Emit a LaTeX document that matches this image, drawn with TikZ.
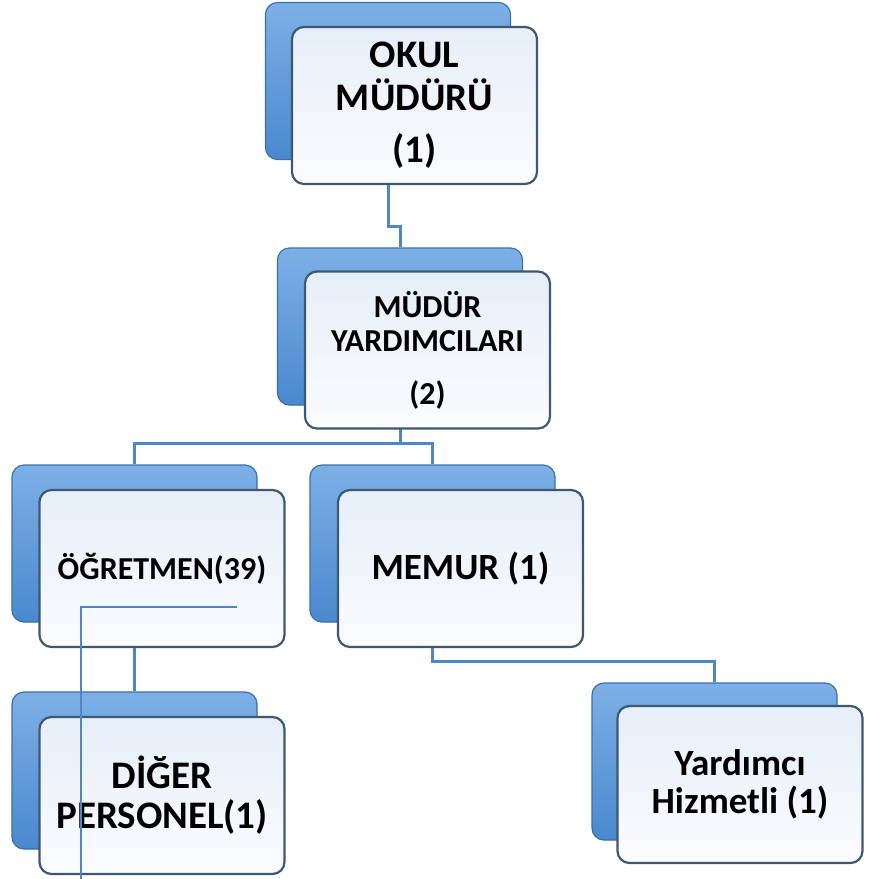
\documentclass[tikz,border=0pt]{standalone}
\usepackage{fontspec}
\setmainfont{Carlito}[BoldFont={Carlito Bold}]
\definecolor{backtop}{HTML}{7DB0E6}
\definecolor{backbot}{HTML}{4A88CE}
\definecolor{backline}{HTML}{3A6FA9}
\definecolor{fronttop}{HTML}{E6EEF8}
\definecolor{frontbot}{HTML}{FBFCFE}
\definecolor{frontline}{HTML}{3E5870}
\definecolor{connline}{HTML}{4F87C4}
\begin{document}
\begin{tikzpicture}[x=1pt,y=-1pt,
  backbox/.style={draw=backline,line width=1.2pt,rounded corners=12pt,
    top color=backtop,bottom color=backbot,
    minimum width=245pt,minimum height=157pt,inner sep=0pt},
  frontbox/.style={draw=frontline,line width=2.2pt,rounded corners=12pt,
    top color=fronttop,bottom color=frontbot,
    minimum width=245pt,minimum height=157pt,inner sep=0pt,align=center},
  conn/.style={draw=connline,line width=3pt},
  stray/.style={draw=connline,line width=1.3pt}]
  \useasboundingbox (0,0) rectangle (870,879);

  % arka kutular
  \node[backbox] (okulback) at (388,81) {};
  \node[backbox] (yrdback) at (400,326.5) {};
  \node[backbox] (ogrback) at (134.5,543.5) {};
  \node[backbox] (memurback) at (432.5,543.5) {};
  \node[backbox] (digerback) at (134.5,770.5) {};
  \node[backbox] (hizback) at (714.5,761.5) {};

  % baglantilar
  \draw[conn] (okulback.south) -- ++(0,66) -| (yrdback.north);
  \draw[conn] (yrdback.south) -- ++(0,38) -| (ogrback.north);
  \draw[conn] (yrdback.south) -- ++(0,38) -| (memurback.north);
  \draw[conn] (ogrback.south) -- (digerback.north);
  \draw[conn] (memurback.south) -- ++(0,39) -| (hizback.north);

  % on kutular
  \node[frontbox,font=\fontsize{39}{43}\selectfont\bfseries] (okul) at (414.5,105.5)
    {OKUL\\MÜDÜRÜ\\[9pt](1)};
  \node[frontbox,font=\fontsize{32}{34}\selectfont\bfseries] (yrd) at (427.5,350)
    {MÜDÜR\\YARDIMCILARI\\[19pt](2)};
  \node[frontbox,font=\fontsize{32}{36}\selectfont\bfseries] (ogr) at (162,568.5)
    {ÖĞRETMEN(39)};
  \node[frontbox,font=\fontsize{37}{41}\selectfont\bfseries] (memur) at (460.5,568.5)
    {MEMUR (1)};
  \node[frontbox,font=\fontsize{39}{40}\selectfont\bfseries] (diger) at (162,795.5)
    {DİĞER\\PERSONEL(1)};
  \node[frontbox,font=\fontsize{37}{38}\selectfont\bfseries] (hiz) at (740,784.5)
    {Yardımcı\\Hizmetli (1)};

  % ince cizgi
  \coordinate (strayA) at (237,607);
  \coordinate (strayB) at (81,879);
  \draw[stray] (strayA) -| (strayB);
\end{tikzpicture}
\end{document}
